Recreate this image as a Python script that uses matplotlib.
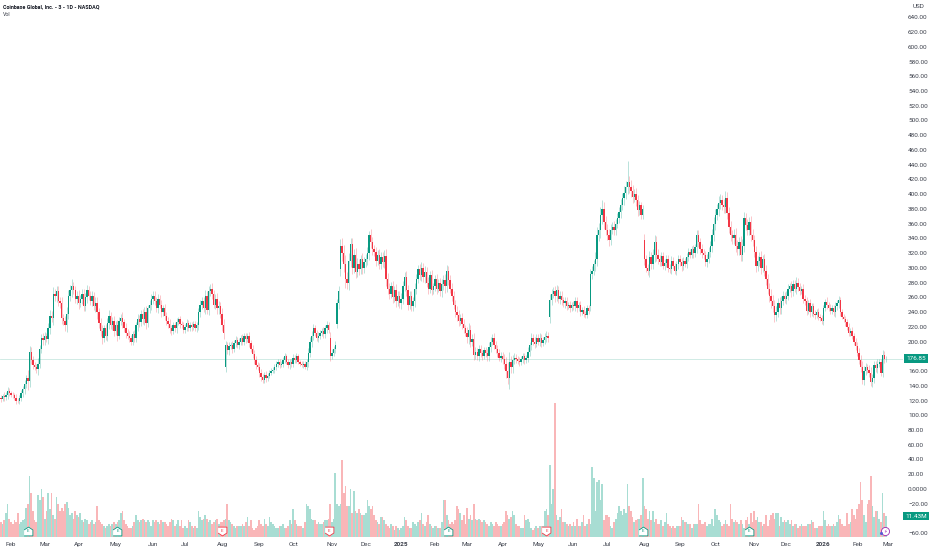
"""Coinbase daily candles with volume, TradingView look."""

import matplotlib

matplotlib.use("Agg")
import matplotlib.pyplot as plt
import numpy as np

# one list per month, Jan 2024 (partial) to Feb 2026
month_labels = ["", "Feb", "Mar", "Apr", "May", "Jun", "Jul", "Aug", "Sep", "Oct", "Nov", "Dec", "2025",
                "Feb", "Mar", "Apr", "May", "Jun", "Jul", "Aug", "Sep", "Oct", "Nov", "Dec", "2026", "Feb", "Mar"]

closes = [
    [124, 122, 126, 125, 128, 133, 130],
    [128, 127, 124, 120, 119, 124, 130, 135, 142, 150, 146, 186, 175, 168, 165, 163, 170, 190, 205, 202],
    [207, 204, 218, 235, 232, 265, 262, 268, 255, 252, 232, 228, 222, 238, 262, 270, 275, 270, 258, 262],
    [252, 258, 265, 248, 260, 270, 262, 255, 262, 248, 252, 240, 225, 214, 205, 218, 208, 225, 235, 222, 228, 215],
    [222, 208, 228, 232, 226, 218, 212, 208, 205, 200, 210, 205, 222, 230, 226, 238, 230, 240, 225, 245, 250, 258],
    [262, 255, 245, 258, 250, 240, 245, 235, 228, 224, 218, 214, 222, 218, 226, 230, 224, 222, 216],
    [220, 225, 218, 222, 220, 224, 218, 222, 240, 250, 255, 245, 262, 243, 268, 272, 265, 250, 258, 245, 248, 238],
    [222, 212, 195, 188, 194, 196, 190, 198, 202, 195, 200, 205, 200, 207, 203, 208, 198, 190, 183, 175, 168, 165],
    [158, 152, 148, 155, 150, 153, 158, 160, 162, 165, 170, 172, 168, 170, 175, 180, 172, 168, 172, 170],
    [178, 175, 180, 172, 170, 168, 170, 166, 172, 185, 200, 208, 218, 212, 205, 208, 212, 215, 210, 218, 222, 216, 181],
    [185, 190, 196, 252, 268, 330, 320, 305, 285, 280, 310, 332, 300, 318, 295, 305, 298, 312, 300, 308],
    [312, 320, 345, 335, 325, 322, 310, 318, 305, 315, 308, 316, 285, 272, 265, 275, 260, 270, 255, 262, 252],
    [258, 275, 288, 270, 250, 262, 248, 255, 272, 285, 298, 290, 300, 287, 295, 280, 272, 290, 270, 275],
    [285, 272, 280, 268, 278, 283, 275, 296, 284, 272, 262, 250, 240, 236, 228, 232, 224, 218, 212],
    [206, 216, 200, 204, 182, 186, 180, 190, 184, 180, 188, 184, 180, 192, 200, 205, 196, 190, 185, 178, 180],
    [176, 170, 160, 150, 172, 165, 175, 178, 176, 174, 172, 176, 180, 175, 178, 186, 195, 205, 200, 197, 205],
    [200, 205, 198, 202, 206, 208, 205, 256, 265, 268, 262, 270, 258, 262, 256, 252, 255, 248, 250, 245, 250],
    [248, 255, 245, 250, 240, 243, 238, 236, 245, 242, 292, 296, 305, 312, 345, 352, 372, 380, 362, 352],
    [345, 338, 352, 356, 352, 360, 368, 376, 385, 395, 402, 410, 416, 410, 405, 396, 400, 392, 378, 385, 372, 380],
    [312, 300, 296, 315, 305, 318, 335, 318, 312, 308, 316, 303, 306, 312, 300, 298, 310, 303, 296, 305, 312],
    [308, 302, 310, 305, 315, 322, 318, 325, 320, 328, 345, 335, 325, 320, 318, 308, 312, 322, 330, 345, 360],
    [372, 380, 388, 392, 385, 382, 395, 375, 355, 345, 340, 345, 330, 325, 335, 318, 330, 368, 358, 352, 362, 345, 338],
    [322, 302, 310, 315, 300, 312, 296, 285, 272, 262, 255, 248, 236, 240, 252, 245, 255, 262, 258],
    [262, 272, 275, 268, 278, 272, 280, 274, 268, 272, 258, 255, 242, 252, 240, 248, 238, 236, 240, 234, 232, 228],
    [245, 254, 250, 246, 242, 245, 240, 248, 252, 256, 240, 234, 230, 226, 220, 212, 215, 208, 200, 194],
    [185, 175, 166, 148, 160, 165, 162, 158, 145, 150, 168, 164, 170, 172, 158, 182, 176, 176.85],
]

# wick length either side of the body, dollars
wicks = [
    [3, 4, 3, 5, 4, 6, 4],
    [3, 4, 3, 5, 3, 4, 4, 5, 6, 5, 12, 8, 6, 5, 4, 5, 8, 6, 5, 6],
    [6, 5, 7, 8, 6, 9, 7, 8, 7, 6, 8, 6, 7, 9, 8, 7, 10, 6, 5, 7],
    [8, 5, 7, 6, 6, 7, 5, 6, 7, 5, 8, 9, 6, 7, 8, 5, 6, 7, 8, 5, 6, 7],
    [6, 7, 5, 6, 8, 5, 7, 5, 6, 4, 5, 6, 5, 7, 6, 5, 6, 7, 8, 5, 6, 7],
    [7, 6, 5, 6, 5, 7, 5, 6, 5, 6, 7, 5, 4, 5, 6, 4, 5, 4, 4],
    [4, 5, 4, 4, 5, 4, 4, 5, 6, 7, 6, 5, 8, 6, 7, 6, 7, 5, 6, 8, 7, 6],
    [7, 8, 6, 5, 6, 4, 5, 4, 5, 4, 5, 4, 5, 4, 5, 4, 5, 4, 5, 6, 5, 4],
    [6, 5, 4, 4, 5, 4, 3, 4, 3, 4, 3, 5, 4, 3, 4, 4, 3, 4, 5, 4],
    [5, 4, 4, 3, 3, 3, 4, 3, 5, 6, 6, 7, 6, 5, 4, 5, 4, 4, 5, 5, 6, 5, 8],
    [5, 4, 5, 6, 8, 9, 10, 11, 12, 9, 10, 9, 8, 7, 9, 8, 7, 6, 8, 7],
    [7, 8, 9, 8, 7, 6, 7, 6, 7, 6, 7, 8, 10, 8, 7, 6, 7, 6, 8, 7, 6],
    [8, 7, 6, 8, 7, 6, 7, 6, 8, 7, 6, 7, 8, 6, 7, 6, 7, 6, 7, 5],
    [6, 7, 5, 6, 7, 8, 9, 8, 7, 6, 7, 6, 7, 8, 7, 6, 7, 6, 5],
    [8, 9, 7, 6, 7, 6, 5, 6, 5, 5, 4, 5, 6, 7, 6, 5, 6, 5, 6, 5, 6],
    [6, 7, 9, 12, 14, 8, 7, 6, 5, 4, 5, 4, 5, 5, 4, 6, 5, 7, 5, 6, 5],
    [5, 6, 5, 4, 5, 6, 5, 9, 7, 6, 8, 7, 6, 7, 6, 5, 6, 5, 4, 5, 4],
    [5, 6, 5, 4, 5, 4, 5, 4, 4, 5, 6, 7, 6, 9, 10, 9, 11, 12, 9, 8],
    [7, 8, 7, 6, 8, 7, 6, 7, 8, 7, 9, 8, 10, 9, 9, 8, 7, 8, 7, 6, 5, 6],
    [8, 6, 5, 8, 6, 7, 10, 8, 7, 5, 6, 5, 6, 5, 6, 5, 6, 5, 4, 5, 6],
    [5, 6, 5, 4, 5, 5, 4, 5, 6, 5, 8, 7, 6, 7, 6, 5, 7, 6, 7, 8, 9],
    [8, 7, 9, 8, 7, 8, 7, 8, 7, 8, 7, 8, 9, 8, 7, 8, 9, 8, 7, 8, 7, 9, 8],
    [7, 8, 6, 7, 8, 6, 7, 8, 7, 8, 9, 8, 9, 8, 7, 8, 7, 6, 5],
    [7, 6, 5, 7, 6, 5, 7, 6, 5, 4, 6, 5, 6, 5, 6, 5, 4, 5, 4, 5, 4, 4],
    [5, 4, 6, 4, 5, 4, 5, 6, 5, 6, 5, 4, 4, 5, 4, 5, 4, 5, 4, 5],
    [5, 6, 7, 8, 7, 6, 5, 6, 7, 6, 6, 5, 6, 5, 5, 6, 5, 4],
]

# volume in millions of shares
volumes = [
    [9, 8, 7, 9, 13, 18, 10],
    [8, 7, 9, 8, 13, 7, 8, 9, 10, 16, 18, 33, 24, 14, 9, 8, 23, 20, 26, 22],
    [10, 14, 24, 15, 24, 12, 10, 22, 18, 14, 16, 14, 18, 19, 16, 12, 13, 10, 14, 12],
    [11, 13, 9, 8, 10, 9, 7, 8, 9, 7, 8, 17, 9, 8, 7, 6, 5, 6, 7, 6, 7, 8],
    [7, 8, 9, 13, 14, 9, 7, 6, 5, 5, 6, 8, 12, 9, 8, 9, 10, 9, 8, 9, 8, 6],
    [9, 8, 9, 8, 7, 9, 8, 8, 7, 6, 8, 10, 9, 6, 7, 9, 6, 9, 5],
    [6, 5, 9, 8, 6, 5, 6, 5, 14, 11, 9, 10, 12, 10, 8, 9, 7, 8, 9, 10, 7, 8],
    [8, 9, 10, 18, 9, 8, 7, 6, 5, 6, 6, 6, 7, 6, 8, 11, 6, 9, 5, 4, 5, 6],
    [9, 7, 6, 10, 7, 6, 11, 8, 7, 6, 5, 5, 6, 6, 7, 5, 5, 6, 9, 7],
    [15, 9, 7, 6, 6, 6, 5, 8, 18, 17, 15, 10, 9, 9, 7, 8, 7, 7, 8, 9, 9, 10, 18],
    [8, 10, 35, 18, 17, 18, 42, 24, 28, 17, 17, 26, 13, 25, 14, 13, 15, 13, 12, 12],
    [13, 20, 17, 15, 17, 12, 9, 8, 7, 11, 11, 9, 7, 6, 5, 7, 6, 4, 6, 5, 4],
    [5, 6, 11, 9, 6, 5, 5, 8, 7, 6, 8, 9, 13, 7, 6, 8, 12, 7, 6, 5],
    [6, 6, 5, 5, 8, 20, 20, 12, 9, 7, 8, 7, 9, 17, 15, 13, 9, 12, 7],
    [16, 10, 12, 9, 18, 10, 9, 10, 9, 8, 9, 8, 7, 6, 8, 7, 6, 8, 7, 6, 6],
    [7, 8, 14, 12, 10, 11, 14, 12, 7, 6, 6, 5, 5, 12, 9, 10, 8, 5, 4, 5, 6],
    [5, 6, 6, 6, 14, 15, 12, 39, 18, 26, 73, 12, 9, 11, 15, 8, 8, 7, 6, 7, 6],
    [8, 6, 10, 6, 6, 8, 12, 6, 7, 10, 7, 38, 32, 14, 30, 31, 20, 29, 9, 12],
    [12, 11, 6, 5, 8, 10, 13, 17, 14, 12, 15, 13, 29, 17, 14, 11, 8, 9, 10, 10, 12, 32],
    [17, 15, 10, 14, 9, 14, 8, 10, 7, 7, 9, 6, 8, 13, 7, 6, 5, 6, 5, 6, 6],
    [6, 11, 9, 8, 8, 7, 7, 5, 7, 7, 7, 18, 9, 7, 7, 8, 6, 7, 7, 10, 6],
    [15, 12, 9, 8, 6, 7, 9, 7, 6, 18, 10, 8, 9, 8, 7, 9, 7, 5, 9, 11, 7, 13, 8],
    [14, 9, 11, 8, 8, 6, 7, 12, 6, 9, 12, 13, 10, 13, 13, 6, 11, 8, 9],
    [8, 9, 7, 9, 6, 7, 7, 5, 6, 7, 6, 6, 6, 7, 7, 9, 8, 5, 5, 6, 6, 6],
    [14, 9, 6, 7, 6, 6, 7, 6, 8, 12, 10, 7, 6, 6, 13, 7, 8, 15, 12, 10],
    [15, 18, 30, 20, 12, 8, 18, 20, 33, 17, 11, 14, 14, 10, 8, 24, 13, 11.43],
]

# (month, bar in month): open, where the bar gapped away from the prior close
gap_opens = {(7, 2): 165, (9, 22): 205, (10, 3): 224, (10, 5): 298, (16, 7): 234, (17, 10): 248, (19, 0): 338}
# (month, bar in month): extreme wick ends
high_marks = {(18, 12): 445, (21, 6): 405, (11, 2): 350, (20, 10): 352}
low_marks = {(15, 3): 143, (25, 3): 143, (25, 8): 140}

earnings_up = [(1, 10), (4, 1), (13, 8), (18, 21), (21, 20)]
earnings_down = [(7, 0), (9, 21), (16, 5)]

# 180 and -40 sit under the last value boxes, so the scale does not print them
price_ticks = [p for p in range(640, -80, -20) if p not in (180, -40)]
last_price = 176.85
last_volume = 11.43

UP = "#089981"
DOWN = "#f23645"
TEXT = "#3d414c"
AXIS_FS = 4.55
HEAD_FS = 3.9

plt.rcParams["font.family"] = ["Roboto", "DejaVu Sans"]

starts = np.cumsum([0] + [len(m) for m in closes])
close = np.concatenate(closes).astype(float)
vol = np.concatenate(volumes)
wick = np.concatenate(wicks).astype(float)
x = np.arange(len(close))

op = np.r_[close[0] - 2, close[:-1]]
for (m, b), v in gap_opens.items():
    op[starts[m] + b] = v
high = np.maximum(op, close) + wick
low = np.minimum(op, close) - wick
for (m, b), v in high_marks.items():
    high[starts[m] + b] = v
for (m, b), v in low_marks.items():
    low[starts[m] + b] = v
colors = np.where(close >= op, UP, DOWN)

fig = plt.figure(figsize=(9.32, 5.5), dpi=100, facecolor="white")
ax_vol = fig.add_axes([0, 9 / 550, 903 / 932, 541 / 550])
ax = fig.add_axes([0, 9 / 550, 903 / 932, 541 / 550], sharex=ax_vol)
ax.patch.set_visible(False)

# volume pane shares the full height, baseline sits just over the time scale
ax_vol.bar(x, vol, width=1.0, color=np.where(close >= op, "#a8ddd3", "#f9b6b8"), linewidth=0)
ax_vol.set_ylim(-2.18, 292.7)
ax_vol.set_yticks([])

ax.axhline(last_price, color="#c9e8e1", lw=0.6, zorder=1)
ax.vlines(x, low, high, colors=colors, lw=0.5, alpha=0.4, zorder=2)
body = np.maximum(np.abs(close - op), 1.0)
ax.bar(x, body, bottom=np.minimum(op, close), width=0.8, color=colors, linewidth=0, zorder=3)
ax.set_ylim(-70.6, 663.5)
ax.set_xlim(0.49, 535.1)

ax.yaxis.tick_right()
ax.set_yticks(price_ticks)
ax.set_yticklabels(["0.0000" if p == 0 else f"{p:.2f}".replace("-", "\u2212") for p in price_ticks])
ax.tick_params(axis="y", length=0, pad=3.6, labelsize=AXIS_FS, labelcolor=TEXT)

ticks = list(starts[1:])
ax.set_xticks(ticks)
ax.set_xticklabels(month_labels[1:])
ax.tick_params(axis="x", length=0, pad=0.8, labelsize=AXIS_FS, labelcolor=TEXT)
for lab in ax.get_xticklabels():
    if lab.get_text() in ("2025", "2026"):
        lab.set_fontweight("bold")
ax_vol.tick_params(axis="x", length=0, labelbottom=False)

for a in (ax, ax_vol):
    for s in a.spines.values():
        s.set_visible(False)

# earnings flags
flag_y = 3.3
house = [(-1, -1), (1, -1), (1, 0.35), (0, 1), (-1, 0.35)]
shield = [(-1, 1), (1, 1), (1, -0.35), (0, -1), (-1, -0.35)]
for marks, shape, col in ((earnings_up, house, UP), (earnings_down, shield, DOWN)):
    for m, b in marks:
        i = starts[m] + b
        ax_vol.scatter([i], [flag_y], marker=shape, s=40, facecolor="white", edgecolor=col, linewidth=0.6, zorder=5)
        ax_vol.text(i, flag_y, "E", fontsize=3.2, color=col, ha="center", va="center", zorder=6)

# dividends/news badge at the last bar
ax_vol.scatter([x[-1] - 0.5], [flag_y], s=34, facecolor="white", edgecolor="#9c27b0", linewidth=0.6, zorder=5)
ax_vol.text(x[-1] - 0.5, flag_y, "\u26a1", fontsize=3.6, color="#9c27b0", ha="center", va="center", zorder=6)
ax_vol.scatter([x[-1] - 3], [flag_y - 1], s=5, color="#5b5bd6", linewidth=0, zorder=6)

# last value boxes on the scale
for a, y, s in ((ax, last_price, f"{last_price:.2f}"), (ax_vol, last_volume, f"{last_volume:.2f}M")):
    a.text(1.0144, y, s, transform=a.get_yaxis_transform(), fontsize=AXIS_FS, color="white", ha="center", va="center",
           bbox=dict(boxstyle="square,pad=0.28", facecolor=UP, edgecolor="none"), zorder=8, clip_on=False)

fig.text(3 / 932, 1 - 7 / 550, "Coinbase Global, Inc. - 3 - 1D - NASDAQ", fontsize=HEAD_FS, fontweight="bold",
         color="#131722", va="center")
fig.text(3 / 932, 1 - 15 / 550, "Vol", fontsize=HEAD_FS, color=TEXT, va="center")
fig.text(913 / 932, 1 - 7 / 550, "USD", fontsize=AXIS_FS, color=TEXT, va="center")

fig.savefig("out.png", dpi=100, facecolor="white")
